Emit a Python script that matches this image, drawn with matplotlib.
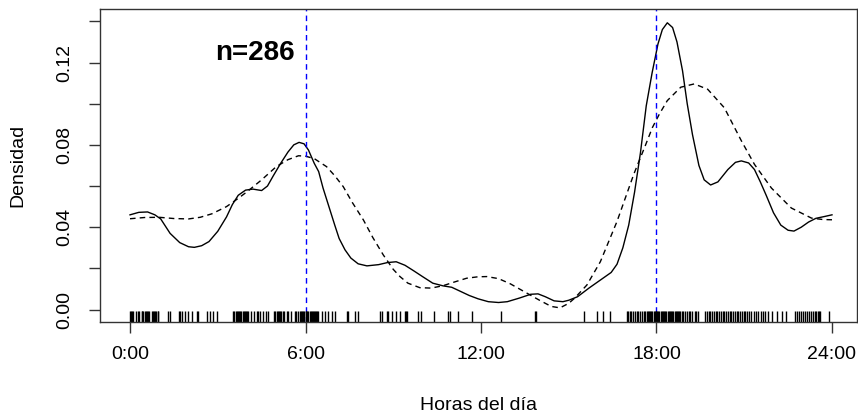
import matplotlib
matplotlib.use("Agg")
import matplotlib.pyplot as plt
import matplotlib.transforms as mtransforms

plt.rcParams['font.family'] = ['Liberation Sans', 'DejaVu Sans']

# ---- data ----
solid_hours = [0.0, 0.3, 0.6, 0.85, 1.05, 1.37, 1.7, 2.0, 2.2, 2.45, 2.7, 3.0, 3.3, 3.5, 3.7,
               3.95, 4.2, 4.5, 4.7, 4.9, 5.15, 5.4, 5.6, 5.78, 5.95, 6.1, 6.3, 6.45, 6.6, 6.8,
               7.0, 7.15, 7.35, 7.55, 7.8, 8.1, 8.5, 8.8, 9.1, 9.4, 9.7, 10.0, 10.35, 10.7,
               11.0, 11.3, 11.6, 11.9, 12.25, 12.6, 12.9, 13.3, 13.7, 13.95, 14.2, 14.5, 14.8,
               15.0, 15.3, 15.7, 16.1, 16.45, 16.65, 16.85, 17.05, 17.25, 17.45, 17.65, 17.85,
               18.05, 18.2, 18.37, 18.55, 18.7, 18.89, 19.05, 19.23, 19.45, 19.63, 19.85, 20.1,
               20.44, 20.7, 20.9, 21.15, 21.35, 21.55, 21.75, 22.0, 22.25, 22.5, 22.7, 22.95,
               23.2, 23.45, 23.75, 24.0]
solid_density = [0.046, 0.0472, 0.0474, 0.046, 0.044, 0.037, 0.0325, 0.0305, 0.0302, 0.031,
                 0.033, 0.038, 0.045, 0.051, 0.0555, 0.058, 0.0585, 0.0578, 0.060, 0.065, 0.071,
                 0.0765, 0.080, 0.0812, 0.0805, 0.0775, 0.071, 0.067, 0.059, 0.050, 0.041,
                 0.0345, 0.029, 0.025, 0.0222, 0.0212, 0.0218, 0.0228, 0.0232, 0.0215, 0.0188,
                 0.016, 0.0128, 0.0115, 0.0108, 0.0088, 0.0068, 0.0052, 0.0038, 0.0034, 0.0038,
                 0.0055, 0.0074, 0.0076, 0.0062, 0.0042, 0.0038, 0.0045, 0.0062, 0.0105, 0.0145,
                 0.018, 0.022, 0.030, 0.041, 0.057, 0.076, 0.099, 0.115, 0.129, 0.136, 0.1393,
                 0.137, 0.130, 0.116, 0.100, 0.085, 0.070, 0.063, 0.0605, 0.062, 0.068, 0.0715,
                 0.0722, 0.0712, 0.068, 0.062, 0.0555, 0.047, 0.041, 0.0385, 0.0381, 0.040,
                 0.0425, 0.0443, 0.0452, 0.046]

dashed_hours = [0.0, 0.5, 1.0, 1.5, 2.0, 2.4, 2.8, 3.3, 3.7, 4.0, 4.5, 5.0, 5.4, 5.76, 6.0,
                6.3, 6.72, 7.0, 7.29, 7.6, 7.98, 8.3, 8.66, 9.0, 9.23, 9.5, 9.91, 10.3, 10.71,
                11.1, 11.51, 11.9, 12.2, 12.6, 13.0, 13.5, 14.0, 14.4, 14.7, 15.0, 15.2, 15.62,
                16.08, 16.65, 17.22, 17.4, 17.6, 17.86, 18.1, 18.37, 18.83, 19.29, 19.75, 20.32,
                20.9, 21.35, 21.93, 22.61, 23.3, 23.7, 24.0]
dashed_density = [0.0441, 0.0447, 0.0448, 0.0442, 0.044, 0.0448, 0.0465, 0.050, 0.054, 0.0572,
                  0.063, 0.0694, 0.0728, 0.0747, 0.0745, 0.0733, 0.0694, 0.065, 0.0597, 0.052,
                  0.0435, 0.035, 0.0265, 0.0195, 0.016, 0.0128, 0.0106, 0.0104, 0.0116, 0.0134,
                  0.0152, 0.0159, 0.016, 0.015, 0.0125, 0.0085, 0.0045, 0.0015, 0.0008, 0.003,
                  0.0055, 0.0119, 0.0232, 0.0428, 0.0656, 0.072, 0.079, 0.0884, 0.095, 0.1015,
                  0.108, 0.1096, 0.107, 0.098, 0.082, 0.0705, 0.059, 0.0493, 0.0444, 0.0437,
                  0.0436]

rug_hours = [0.0, 0.02, 0.06, 0.11, 0.19, 0.26, 0.31, 0.40, 0.42, 0.46, 0.50, 0.54, 0.58, 0.62,
             0.65, 0.74, 0.78, 0.82, 0.86, 0.90, 0.94, 0.97, 1.29, 1.37, 1.68, 1.72, 1.77, 1.88,
             1.97, 2.11, 2.28, 2.34, 2.62, 2.74, 2.85, 2.96, 3.53, 3.57, 3.61, 3.65, 3.69, 3.73,
             3.77, 3.81, 3.85, 3.89, 3.93, 3.97, 4.01, 4.05, 4.14, 4.25, 4.33, 4.37, 4.44, 4.53,
             4.64, 4.73, 4.93, 4.97, 5.01, 5.05, 5.09, 5.13, 5.17, 5.22, 5.28, 5.36, 5.41, 5.50,
             5.64, 5.68, 5.73, 5.81, 5.85, 5.89, 5.92, 5.96, 6.00, 6.02, 6.06, 6.10, 6.14, 6.18,
             6.21, 6.25, 6.29, 6.33, 6.37, 6.41, 6.44, 6.55, 6.67, 6.78, 6.92, 7.01, 7.41, 7.46,
             7.69, 7.81, 8.55, 8.63, 8.78, 8.81, 8.97, 9.09, 9.23, 9.40, 9.44, 9.47, 9.84, 9.95,
             10.40, 10.86, 10.95, 11.20, 11.68, 12.68, 13.85, 13.88, 15.53, 15.96, 16.18, 16.41,
             16.98, 17.02, 17.08, 17.14, 17.20, 17.26, 17.32, 17.38, 17.44, 17.50, 17.56, 17.62,
             17.66, 17.70, 17.74, 17.78, 17.82, 17.86, 17.90, 17.94, 17.98, 18.00, 18.02, 18.06,
             18.10, 18.14, 18.18, 18.22, 18.26, 18.30, 18.34, 18.38, 18.42, 18.46, 18.50, 18.54,
             18.58, 18.62, 18.66, 18.70, 18.74, 18.78, 18.82, 18.86, 18.92, 18.98, 19.04, 19.10,
             19.16, 19.22, 19.30, 19.36, 19.43, 19.66, 19.72, 19.78, 19.84, 19.90, 19.96, 20.02,
             20.08, 20.14, 20.20, 20.26, 20.32, 20.38, 20.44, 20.50, 20.56, 20.62, 20.68, 20.74,
             20.80, 20.86, 20.92, 20.98, 21.04, 21.10, 21.16, 21.24, 21.32, 21.40, 21.48, 21.56,
             21.64, 21.72, 21.80, 21.94, 22.11, 22.28, 22.43, 22.74, 22.80, 22.88, 22.94, 23.00,
             23.08, 23.14, 23.22, 23.28, 23.36, 23.42, 23.47, 23.52, 23.57, 23.59, 23.91]

x_ticks = [0, 6, 12, 18, 24]
x_tick_labels = ["0:00", "6:00", "12:00", "18:00", "24:00"]
y_ticks = [0.00, 0.02, 0.04, 0.06, 0.08, 0.10, 0.12, 0.14]
y_tick_labels = ["0.00", "", "0.04", "", "0.08", "", "0.12", ""]
ref_hours = [6, 18]
n_label = "n=286"

# ---- figure ----
W, H = 858, 419
fig = plt.figure(figsize=(W / 100, H / 100), dpi=100)
ax = fig.add_axes([100 / W, (H - 322) / H, 757 / W, 313 / H])

ax.plot(solid_hours, solid_density, color="black", lw=1.0, solid_joinstyle="round")
ax.plot(dashed_hours, dashed_density, color="black", lw=1.0, ls=(0, (4, 3)))
for h in ref_hours:
    ax.axvline(h, color="#0000FF", lw=1.0, ls=(0, (4, 3)))

trans = mtransforms.blended_transform_factory(ax.transData, ax.transAxes)
ax.vlines(rug_hours, 0, 0.035, transform=trans, color="black", lw=1.0)

ax.text(4.27, 0.1245, n_label, fontsize=20, fontweight="bold", ha="center", va="center")

ax.set_xlim(-1.026, 24.855)
ax.set_ylim(-0.00607, 0.146)
ax.set_xticks(x_ticks)
ax.set_xticklabels(x_tick_labels)
ax.set_yticks(y_ticks)
ax.set_yticklabels(y_tick_labels, rotation=90, va="center")
ax.tick_params(axis="both", length=8, width=1.0, labelsize=14, color="#333333")
ax.tick_params(axis="x", pad=9)
ax.tick_params(axis="y", pad=11)
for s in ax.spines.values():
    s.set_linewidth(1.0)
    s.set_color("#333333")

fig.text(18 / W, 1 - 165.5 / H, "Densidad", rotation=90, ha="center", va="center", fontsize=14)
fig.text(478 / W, 1 - 405 / H, "Horas del día", ha="center", va="center", fontsize=14)

fig.savefig("out.png", dpi=100)
